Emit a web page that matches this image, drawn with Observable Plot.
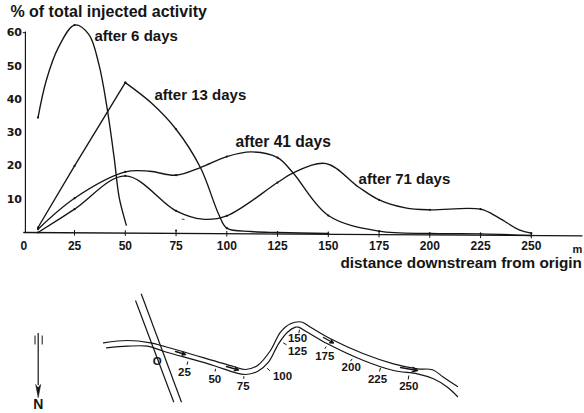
<!doctype html>
<html><head><meta charset="utf-8">
<style>html,body{margin:0;padding:0;background:#fff}svg{display:block}</style>
<script src="https://cdn.jsdelivr.net/npm/d3@7"></script>
<script src="https://cdn.jsdelivr.net/npm/@observablehq/plot@0.6"></script>
</head><body><script>
const INK = "#151515", FONT = "'Liberation Sans', sans-serif";

// chart series: distance downstream (m) and % of total injected activity
const day6X  = [7, 11, 17, 25, 32, 37, 41, 44.5, 47, 50.5];
const day6Y  = [34.5, 45.5, 55.5, 62.3, 59.5, 50.5, 37.5, 22.5, 10.5, 2.2];
const day13RiseX = [7, 25, 50];
const day13RiseY = [1.5, 20, 45];
const day13FallX = [50, 63, 75, 87, 96, 100, 112, 125, 150];
const day13FallY = [45, 38.8, 31, 19.5, 5.5, 1.3, 0.3, 0, -0.3];
const day41X = [7, 25, 50, 62, 75, 87, 100, 112, 125, 132.5, 150, 175, 200, 225, 250];
const day41Y = [1, 10.3, 18.2, 18.4, 17.2, 19.5, 22.8, 24.2, 22.5, 18, 5.1, 0.4, -0.3, -0.4, -0.9];
const day71X = [7, 25, 50, 75, 88, 100, 125, 133, 149, 165, 175, 188, 200, 225, 234, 244, 250];
const day71Y = [0, 7, 17, 6.5, 4, 5, 15, 18, 20.7, 13.6, 9.8, 7.4, 6.8, 7, 4.4, 0.8, -0.2];
const strayX = [75, 78, 79];
const strayY = [0.6, 4, 3.9];

const xTicks = [0, 25, 50, 75, 100, 125, 150, 175, 200, 225, 250];
const yTicks = [10, 20, 30, 40, 50, 60];
const baseX = [0, 275];
const baseY = [0, -1];

const noteText = ["after 6 days", "after 13 days", "after 41 days", "after 71 days", "distance downstream from origin", "% of total injected activity"];
const noteX = [34.8, 64.4, 104.3, 164.9, 156, -6.6];
const noteY = [59, 41.1, 27.3, 15.9, -9.3, 66.4];
const noteSize = [15, 15, 15.6, 15, 15.3, 16];

// map geometry, in map units
const bankUpperX = [103, 127, 150, 163, 182, 233, 245, 257, 270, 280, 290, 301, 310, 330, 363, 393, 417, 432, 443, 457];
const bankUpperY = [342.3, 340, 342.3, 345.7, 351, 366, 369, 365, 350, 331.7, 323.3, 321.5, 326.7, 338.3, 353.3, 363.3, 368.3, 369.3, 376.7, 386];
const bankLowerX = [106, 127, 147, 163, 213, 233, 245, 257, 268, 278, 287, 295, 298, 307, 327, 363, 393, 417, 433, 447, 457];
const bankLowerY = [347.3, 345.7, 345.7, 350.7, 365, 371.7, 374, 371, 361.7, 343.3, 331.7, 326.7, 326.7, 331.7, 343.3, 360, 370, 373.3, 378.3, 386.7, 396];
const roadX1 = [135, 140.7], roadY1 = [300, 293.3], roadX2 = [173.3, 181], roadY2 = [401.7, 401.7];
const flowX1 = [175, 226, 323, 400], flowY1 = [351, 366, 337, 367], flowX2 = [185, 238, 333, 417], flowY2 = [354, 369.5, 342.5, 370];
const stationText = ["O", "25", "50", "75", "100", "125", "150", "175", "200", "225", "250"];
const stationX = [156.7, 184, 214.3, 242.7, 282, 297, 297, 324.3, 350.7, 377, 408.3];
const stationY = [361, 372.3, 379, 385.7, 375.7, 351, 338.2, 356, 366.7, 379, 386];
const markX1 = [187.3, 215, 243.3, 266.7, 282.7, 299, 325.7, 351.7, 380, 408.3];
const markY1 = [361, 368.3, 375.7, 367.7, 342.3, 329.3, 346, 358.3, 367.3, 375];
const markX2 = [186.5, 214.6, 243.3, 269.3, 286, 298.3, 324.3, 350, 379, 407.7];
const markY2 = [364.3, 371, 378.3, 370.3, 344.3, 332.7, 348.3, 360.7, 371, 379];
const featherX1 = [34.5, 41.7], featherY1 = [335, 335], featherX2 = [34.5, 41.7], featherY2 = [344, 344];
const northX = 37.7, northY1 = 333, northY2 = 385, northLabelY = 404.5;
const northHeadX = [35.2, 37.7, 40.2, 37.7], northHeadY = [384, 397, 384, 387];

const zip = (xs, ys) => xs.map((x, i) => ({x, y: ys[i]}));
const isStation = d => d.x === 7 || d.x % 25 === 0;
const curved = [[day6X, day6Y], [day13FallX, day13FallY], [day41X, day41Y], [day71X, day71Y]].map(([a, b]) => zip(a, b));
const rise13 = zip(day13RiseX, day13RiseY);

const chart = Plot.plot({
  width: 584, height: 285, margin: 0,
  style: {background: "#fff", fontFamily: FONT},
  x: {domain: [0, 250], range: [23.3, 530.8], axis: null},
  y: {domain: [0, 60], range: [232, 32.2], axis: null},
  marks: [
    Plot.line(zip(baseX, baseY), {x: "x", y: "y", stroke: INK, strokeWidth: 1.3}),
    Plot.ruleX([0.8], {y1: 0, y2: 60.2, stroke: INK, strokeWidth: 1.2}),
    Plot.link([60], {x1: -0.5, x2: 0.8, y1: d => d, y2: d => d, stroke: INK, strokeWidth: 1}),
    Plot.ruleX(xTicks.slice(1), {y1: d => -d / 275 - 1, y2: d => -d / 275 + 0.7, stroke: INK, strokeWidth: 1}),
    ...curved.flatMap(s => [
      Plot.line(s, {x: "x", y: "y", curve: "catmull-rom", stroke: INK, strokeWidth: 1.35}),
      Plot.dot(s.filter(isStation), {x: "x", y: "y", r: 1.1, fill: INK})
    ]),
    Plot.line(rise13, {x: "x", y: "y", stroke: INK, strokeWidth: 1.35}),
    Plot.dot(rise13, {x: "x", y: "y", r: 1.1, fill: INK}),
    Plot.line(zip(strayX.slice(1), strayY.slice(1)), {x: "x", y: "y", stroke: INK, strokeWidth: 0.8}),
    Plot.dot(zip(strayX.slice(0, 1), strayY.slice(0, 1)), {x: "x", y: "y", r: 1, fill: INK}),
    Plot.text(xTicks, {x: d => d, y: -4.1, text: d => String(d), fontSize: 12, fontWeight: 700, fill: INK}),
    Plot.text(yTicks, {x: -0.9, y: d => d, text: d => String(d), textAnchor: "end", fontSize: 11, fontWeight: 700, fontFamily: "'DejaVu Sans', sans-serif", fill: INK}),
    Plot.text(["m"], {x: 272.7, y: -5.1, text: d => d, fontSize: 11, fontWeight: 700, fill: INK}),
    ...noteText.map((t, i) => Plot.text([t], {x: noteX[i], y: noteY[i], text: d => d, textAnchor: "start", fontSize: noteSize[i], fontWeight: 700, fill: INK}))
  ]
});

const map = Plot.plot({
  width: 584, height: 128, margin: 0,
  style: {background: "#fff", fontFamily: FONT},
  x: {domain: [0, 584], range: [0, 584], axis: null},
  y: {domain: [285, 413], range: [0, 128], axis: null},
  marks: [
    Plot.line(zip(bankUpperX, bankUpperY), {x: "x", y: "y", curve: "catmull-rom", stroke: INK, strokeWidth: 1.2}),
    Plot.line(zip(bankLowerX, bankLowerY), {x: "x", y: "y", curve: "catmull-rom", stroke: INK, strokeWidth: 1.2}),
    Plot.link(roadX1, {x1: d => d, y1: (d, i) => roadY1[i], x2: (d, i) => roadX2[i], y2: (d, i) => roadY2[i], stroke: INK, strokeWidth: 1.2}),
    Plot.arrow(flowX1, {x1: d => d, y1: (d, i) => flowY1[i], x2: (d, i) => flowX2[i], y2: (d, i) => flowY2[i], stroke: INK, strokeWidth: 1.4, headLength: 6, headAngle: 50}),
    Plot.link(markX1, {x1: d => d, y1: (d, i) => markY1[i], x2: (d, i) => markX2[i], y2: (d, i) => markY2[i], stroke: INK, strokeWidth: 1}),
    Plot.text(stationText, {x: (d, i) => stationX[i], y: (d, i) => stationY[i], text: d => d, fontSize: 11.5, fontWeight: 700, fill: INK}),
    Plot.link(featherX1, {x1: d => d, y1: (d, i) => featherY1[i], x2: (d, i) => featherX2[i], y2: (d, i) => featherY2[i], stroke: INK, strokeWidth: 1}),
    Plot.ruleX([northX], {y1: northY1, y2: northY2, stroke: INK, strokeWidth: 1.2}),
    Plot.line(zip(northHeadX, northHeadY), {x: "x", y: "y", fill: INK, stroke: INK, strokeWidth: 0.6}),
    Plot.text(["N"], {x: northX, y: northLabelY, text: d => d, fontSize: 14, fontWeight: 700, fill: INK})
  ]
});

document.body.append(chart, map);
</script></body></html>
